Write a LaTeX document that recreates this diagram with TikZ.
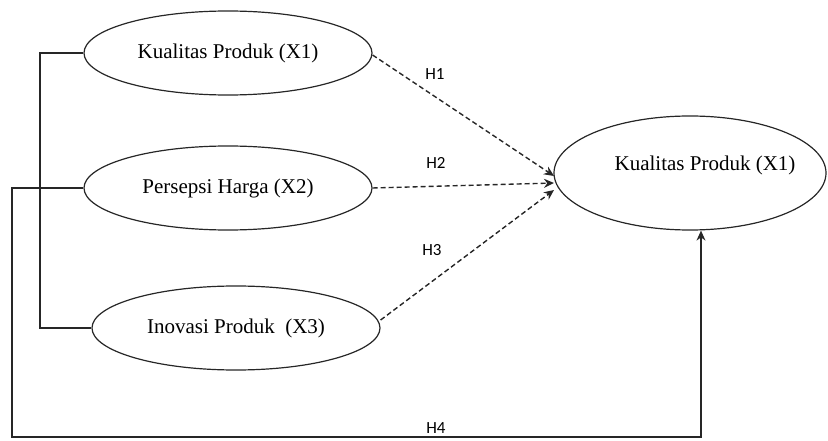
\documentclass[tikz,border=0pt]{standalone}
\usepackage{fontspec}
\setmainfont{Liberation Serif}
\newfontfamily\hfont{Carlito}
\usetikzlibrary{shapes.geometric,arrows.meta}
\begin{document}
\begin{tikzpicture}[x=1pt,y=-1pt,
  ell/.style={draw=black!85,line width=1.2pt,ellipse,inner sep=0pt,
    minimum width=288pt,minimum height=84pt,
    font=\fontsize{21}{24}\selectfont},
  conn/.style={draw=black!85,line width=1.4pt},
  dconn/.style={conn,dash pattern=on 5pt off 3pt,-{Stealth[length=10pt,width=9pt]}},
  hlab/.style={font=\hfont\fontsize{17}{19}\selectfont}]
\useasboundingbox (0,0) rectangle (828,441);
\node[ell] (x1) at (228,53) {Kualitas Produk (X1)};
\node[ell] (x2) at (228,188) {Persepsi Harga (X2)};
\node[ell] (x3) at (236,328) {Inovasi Produk\ \ (X3)};
\node[ell,minimum width=272pt,minimum height=114pt,
  label={[xshift=15pt,yshift=8pt,font=\fontsize{21}{24}\selectfont]center:Kualitas Produk (X1)}] (y) at (690,173) {};
\coordinate (e1) at (554,176);
\coordinate (e2) at (554,183);
\coordinate (e3) at (554,190);
\draw[dconn] (x1.east) ++(0,2) -- (e1);
\draw[dconn] (x2.east) -- (e2);
\draw[dconn] (x3.east) ++(0,-8) -- (e3);
\coordinate (b1) at (40,53);
\draw[conn] (x1.west) -- (b1) |- (x3.west);
\coordinate (c1) at (12,437);
\coordinate (c2) at (701,437);
\draw[conn,-{Stealth[length=10pt,width=9pt]}] (x2.west) -| (c1) -- (c2) -- (c2 |- y.south);
\node[hlab] (h1) at (435,74) {H1};
\node[hlab] (h2) at (436,163) {H2};
\node[hlab] (h3) at (432,250) {H3};
\node[hlab] (h4) at (436,428) {H4};
\end{tikzpicture}
\end{document}
